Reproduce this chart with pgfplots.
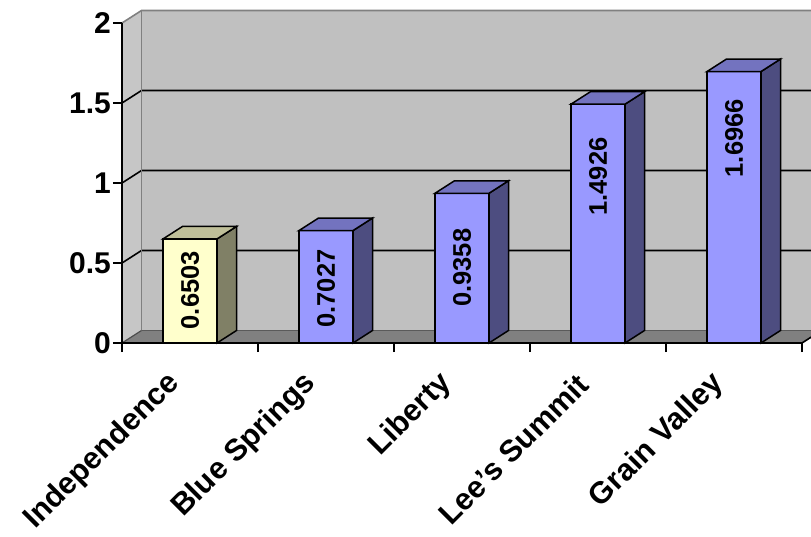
\documentclass[border=0pt]{standalone}
\usepackage{pgfplots}
\pgfplotsset{compat=1.18}
\usepackage{pgfplotstable}
\usepackage{fontspec}
\setmainfont{Liberation Sans}

\definecolor{wallfill}{HTML}{C0C0C0}
\definecolor{sidewall}{HTML}{C6C6C6}
\definecolor{walledge}{HTML}{808080}
\definecolor{floorfill}{HTML}{808080}
\definecolor{indfront}{HTML}{FFFFCC}
\definecolor{indtop}{HTML}{BFBF99}
\definecolor{indside}{HTML}{808066}
\definecolor{cityfront}{HTML}{9999FF}
\definecolor{citytop}{HTML}{7373BF}
\definecolor{cityside}{HTML}{4D4D80}

\newcommand\labelfont{\fontsize{30}{34}\selectfont\bfseries}
\newcommand\catfont{\fontsize{30.5}{35}\selectfont\bfseries}
\newcommand\valfont{\fontsize{25.5}{30}\selectfont\bfseries}

% x = category centre, y = ratio, ly = centre of the value label
\pgfplotstableread{
x    y       ly
0.5  0.6503  0.33
}\indep
\pgfplotstableread{
x    y       ly
1.5  0.7027  0.34
2.5  0.9358  0.47
3.5  1.4926  1.04
4.5  1.6966  1.28
}\others

% a 3-D column: front, side and top colours
\pgfplotsset{
  cuboid/.style n args={3}{
    only marks, mark=*, mark size=0pt, mark options={draw=none, fill=none},
    scatter,
    visualization depends on={\thisrow{y} \as \barval},
    scatter/@pre marker code/.code={%
      \pgfmathsetlengthmacro\barh{\barval*160}%
      \draw[line width=1.5pt, fill=#1] (-27pt,-\barh) rectangle (27pt,0pt);
      \draw[line width=1.5pt, fill=#2] (27pt,0pt) -- (46.5pt,12.5pt) -- (46.5pt,12.5pt-\barh) -- (27pt,-\barh) -- cycle;
      \draw[line width=1.5pt, fill=#3] (-27pt,0pt) -- (27pt,0pt) -- (46.5pt,12.5pt) -- (-7.5pt,12.5pt) -- cycle;
    },
    scatter/@post marker code/.code={},
  },
  barlabels/.style={
    only marks, mark=*, mark size=0pt, mark options={draw=none, fill=none},
    point meta=explicit symbolic,
    nodes near coords={\pgfplotspointmeta},
    every node near coord/.append style={rotate=90, anchor=center, font=\valfont, inner sep=0pt, text=black},
  },
}

\begin{document}
\begin{tikzpicture}
\useasboundingbox (0pt,0pt) rectangle (811pt,536pt);
\begin{axis}[
  at={(122pt,193pt)}, anchor=south west,
  scale only axis, width=680pt, height=320pt,
  xmin=0, xmax=5, ymin=0, ymax=2,
  clip=false, axis on top,
  axis lines*=left,
  axis line style={line width=1.6pt},
  tick align=outside,
  major tick length=9pt, minor tick length=9pt,
  tick style={line width=1.6pt, black},
  ytick={0,0.5,1,1.5,2},
  xtick={0,1,2,3,4,5},
  xticklabels={,,,,,},
  extra x ticks={0.5,1.5,2.5,3.5,4.5},
  extra x tick labels={Independence, Blue Springs, Liberty, Lee's Summit, Grain Valley},
  extra x tick style={major tick length=0pt, tick style={draw=none}},
  /pgf/number format/assume math mode=true,
  yticklabel style={font=\labelfont, inner sep=2pt},
  xticklabel style={font=\catfont, xshift=-15pt, yshift=-36pt, rotate=45, anchor=east, inner sep=0pt},
]
% back wall and left wall of the 3-D frame
\fill[wallfill] ([xshift=19.5pt,yshift=12.5pt]axis cs:0,0) rectangle ([xshift=19.5pt,yshift=12.5pt]axis cs:5.5,2);
\fill[sidewall] (axis cs:0,0) -- (axis cs:0,2) -- ([xshift=19.5pt,yshift=12.5pt]axis cs:0,2) -- ([xshift=19.5pt,yshift=12.5pt]axis cs:0,0) -- cycle;
% gridlines running over the left wall and the back wall
\draw[line width=1.6pt] (axis cs:0,0.5) -- ([xshift=19.5pt,yshift=12.5pt]axis cs:0,0.5) -- ([xshift=19.5pt,yshift=12.5pt]axis cs:5.5,0.5);
\draw[line width=1.6pt] (axis cs:0,1) -- ([xshift=19.5pt,yshift=12.5pt]axis cs:0,1) -- ([xshift=19.5pt,yshift=12.5pt]axis cs:5.5,1);
\draw[line width=1.6pt] (axis cs:0,1.5) -- ([xshift=19.5pt,yshift=12.5pt]axis cs:0,1.5) -- ([xshift=19.5pt,yshift=12.5pt]axis cs:5.5,1.5);
% wall edges
\draw[walledge, line width=1.6pt] (axis cs:0,2) -- ([xshift=19.5pt,yshift=12.5pt]axis cs:0,2) -- ([xshift=19.5pt,yshift=12.5pt]axis cs:5.5,2);
\draw[walledge, line width=1.6pt] ([xshift=19.5pt,yshift=12.5pt]axis cs:0,0) -- ([xshift=19.5pt,yshift=12.5pt]axis cs:0,2);
% floor
\fill[floorfill] (axis cs:0,0) -- (axis cs:5,0) -- ([xshift=19.5pt,yshift=12.5pt]axis cs:5,0) -- ([xshift=19.5pt,yshift=12.5pt]axis cs:0,0) -- cycle;
\draw[line width=1.2pt, walledge!70!black] ([xshift=19.5pt,yshift=12.5pt]axis cs:0,0) -- ([xshift=19.5pt,yshift=12.5pt]axis cs:5.5,0);
\draw[line width=1.2pt, walledge!60!black] (axis cs:0,0) -- ([xshift=19.5pt,yshift=12.5pt]axis cs:0,0);
\draw[line width=1.6pt] (axis cs:5,0) -- ([xshift=19.5pt,yshift=12.5pt]axis cs:5,0);

% 3-D columns
\addplot[cuboid={indfront}{indside}{indtop}] table[x=x, y=y] {\indep};
\addplot[cuboid={cityfront}{cityside}{citytop}] table[x=x, y=y] {\others};
% value labels inside the columns
\addplot[barlabels] table[x=x, y=ly, meta=y] {\indep};
\addplot[barlabels] table[x=x, y=ly, meta=y] {\others};
\end{axis}
\end{tikzpicture}
\end{document}
